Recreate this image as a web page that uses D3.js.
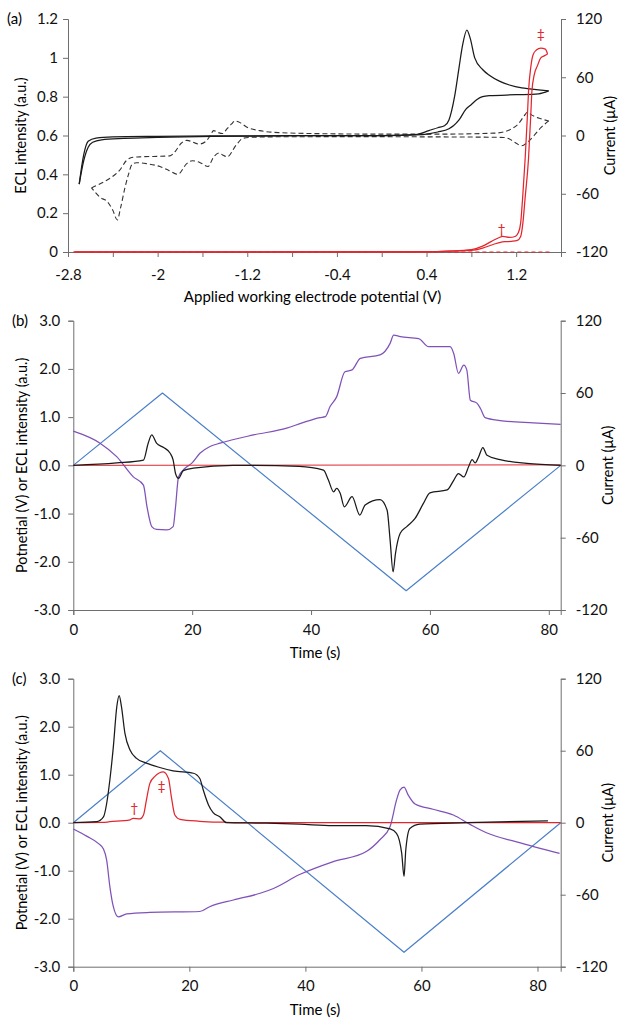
<!DOCTYPE html>
<html>
<head>
<meta charset="utf-8">
<script src="https://cdn.jsdelivr.net/npm/d3@7"></script>
<style>
  body { margin: 0; background: #fff; }
  svg { display: block; font-family: Lato, "Liberation Sans", sans-serif; }
  .axis path, .axis line { stroke: #6e6e6e; }
  .axis text { fill: #111; font-size: 15px; font-family: Lato, "Liberation Sans", sans-serif; }
</style>
</head>
<body>
<svg id="chart" width="618" height="1018"></svg>
<script>
// ---- panel (a): CV (current, µA) vs potential (V); ECL (a.u.)
const cvSolidFwd = [[-2.70,-50],[-2.66,-26],[-2.62,-12],[-2.58,-7],[-2.50,-4.4],[-2.3,-3],[-2.0,-2],[-1.5,-1],[-1.0,-0.4],[-0.5,0],[0.0,0],[0.3,1],[0.42,5],[0.5,8],[0.56,10],[0.6,16],[0.65,40],[0.69,70],[0.72,92],[0.76,108.6],[0.79,100],[0.83,80],[0.9,68],[0.96,62],[1.05,56],[1.14,52],[1.25,49],[1.32,48],[1.4,47],[1.49,46]];
const cvSolidRev = [[1.49,46],[1.4,43],[1.2,42],[0.96,41],[0.9,40],[0.85,37],[0.8,32],[0.75,27],[0.69,16],[0.64,10],[0.6,7],[0.5,3.6],[0.43,2],[0.3,0.6],[0.0,0],[-0.5,0],[-1.0,-0.4],[-1.5,-0.4],[-2.0,-0.8],[-2.4,-1.4],[-2.55,-2.6],[-2.62,-6],[-2.66,-20],[-2.70,-50]];
const cvDashFwd = [[-2.59,-54],[-2.50,-49],[-2.40,-42],[-2.34,-36],[-2.28,-26],[-2.22,-22.4],[-2.16,-22],[-1.89,-21],[-1.84,-16],[-1.79,-8],[-1.74,-5],[-1.63,-8.8],[-1.57,-6],[-1.53,0],[-1.50,5],[-1.46,3],[-1.42,2],[-1.38,7],[-1.34,12],[-1.31,15],[-1.26,13],[-1.21,9],[-1.09,5],[-0.92,3],[-0.5,1.8],[0,1.4],[0.5,1.4],[1.0,2.4],[1.10,4],[1.16,7],[1.22,12],[1.27,20],[1.30,24],[1.34,21],[1.40,18],[1.49,15]];
const cvDashRev = [[1.49,15],[1.42,8],[1.36,0],[1.30,-7],[1.25,-10.6],[1.20,-8],[1.14,-3.6],[1.09,-2],[0.8,-1.6],[0.4,-1.4],[0,-1.2],[-0.5,-1.2],[-1.0,-1.4],[-1.18,-2],[-1.24,-3],[-1.30,-10],[-1.38,-22],[-1.42,-20],[-1.45,-18],[-1.50,-22],[-1.55,-32],[-1.62,-28],[-1.69,-26],[-1.74,-29],[-1.82,-40],[-1.90,-36],[-1.98,-32],[-2.10,-29],[-2.19,-28],[-2.23,-30],[-2.26,-40],[-2.29,-53],[-2.33,-74],[-2.36,-87],[-2.40,-77],[-2.45,-68],[-2.51,-64],[-2.59,-54]];
const eclA1 = [[-2.75,0],[0.4,0.002],[0.6,0.005],[0.8,0.012],[0.9,0.03],[0.98,0.055],[1.04,0.072],[1.08,0.08],[1.14,0.075],[1.19,0.08],[1.22,0.1],[1.24,0.15],[1.26,0.3],[1.28,0.48],[1.30,0.7],[1.31,0.825],[1.33,0.95],[1.35,1.015],[1.38,1.04],[1.42,1.05],[1.46,1.045],[1.48,1.02]];
const eclA2 = [[-2.75,0],[0.4,0.001],[0.6,0.004],[0.8,0.008],[0.9,0.02],[1.0,0.04],[1.06,0.05],[1.10,0.053],[1.16,0.055],[1.21,0.06],[1.24,0.08],[1.26,0.15],[1.28,0.28],[1.31,0.48],[1.33,0.7],[1.34,0.825],[1.36,0.91],[1.39,0.96],[1.42,1.0],[1.45,1.01],[1.48,1.02]];
const eclA3 = [[-2.6,0],[1.5,0]];
const xTicksA = [-2.8,-2.4,-2,-1.6,-1.2,-0.8,-0.4,0,0.4,0.8,1.2];
const xLabelsA = [-2.8,-2,-1.2,-0.4,0.4,1.2];
const yTicksA = [0,0.2,0.4,0.6,0.8,1,1.2];

// ---- panel (b): time (s)
const potB = [[0,0],[15,1.5],[56,-2.6],[82,0]];
const curB = [[0,0],[7.3,2],[11.8,4.4],[12.6,18.4],[13.2,25.2],[14,18.4],[15.2,14.8],[16.3,10],[16.8,4.4],[17.2,-6.8],[17.7,-10.8],[18.5,-4.4],[20.2,-2.4],[26.9,0],[38,-0.8],[42.1,-4],[42.9,-12],[43.8,-22],[44.3,-19.2],[44.9,-23.2],[45.6,-34.4],[46.9,-26],[48.2,-41.2],[49.1,-32.8],[51.6,-28.4],[52.8,-37.2],[53.3,-62],[53.8,-88.4],[54.2,-73.2],[55,-56.4],[56.1,-50.8],[57.5,-44],[58.9,-31.6],[60,-22.8],[62.9,-20.4],[64,-12.4],[64.8,-6.8],[65.7,-9.6],[66.5,-1.2],[67.1,4.8],[67.6,2],[68.2,7.2],[68.9,14.8],[69.6,8.4],[71.8,4.8],[76.3,1.6],[82,0]];
const purB = [[0,0.71],[4.5,0.46],[7.3,0.18],[10.1,-0.24],[11.8,-0.41],[12.4,-0.86],[13.2,-1.27],[14,-1.33],[15.7,-1.34],[16.8,-1.27],[17.2,-0.86],[17.7,-0.24],[18.8,-0.06],[19.9,0.04],[21.3,0.25],[23,0.39],[24.7,0.46],[30.3,0.63],[35.9,0.77],[38.5,0.88],[41.5,0.99],[42.4,1.01],[43.2,1.22],[44.3,1.42],[45.7,1.94],[46.9,1.98],[48.3,2.22],[51.6,2.29],[53.3,2.53],[53.9,2.70],[55,2.67],[58.1,2.63],[59.8,2.46],[63.4,2.46],[64,2.32],[64.8,1.91],[65.7,2.08],[66.2,1.98],[66.8,1.35],[67.9,1.29],[68.5,1.18],[69.3,0.99],[71.8,0.93],[77.4,0.88],[82,0.85]];
const eclB = [[0,0],[82,0.01]];

// ---- panel (c): time (s)
const potC = [[0,0],[15,1.5],[57,-2.7],[84,0]];
const curC = [[0,0],[4.0,0.8],[5.2,4.8],[5.75,16],[6.3,35.6],[6.9,63.2],[7.5,96.8],[7.9,106],[8.3,96.8],[8.9,74.4],[9.8,60.4],[10.9,53.6],[12.6,49.6],[14.9,46],[17.2,43.2],[20.7,41.2],[21.8,36.8],[22.4,27.2],[23.3,14.8],[24.1,8.4],[25.3,4.8],[26.4,0],[33.3,-0.4],[39,-1.2],[44.8,-2.4],[50.5,-2.4],[54.6,-5.2],[55.7,-8.8],[56.6,-25.6],[57,-44.8],[57.3,-22.8],[58,-4.8],[59.7,-1.2],[67.8,0],[81.8,1.6]];
const purC = [[0,-0.13],[2.3,-0.28],[4.3,-0.43],[5.2,-0.55],[5.75,-0.78],[6.3,-1.33],[6.9,-1.75],[7.75,-1.96],[9.2,-1.90],[13.2,-1.87],[21.8,-1.85],[23.5,-1.75],[27.6,-1.61],[32.2,-1.47],[34.5,-1.37],[39,-1.08],[44.8,-0.81],[50.5,-0.60],[52.8,-0.36],[54.6,-0.08],[55.7,0.47],[56.3,0.68],[57,0.74],[57.7,0.58],[58.9,0.39],[62,0.28],[65.5,0.16],[68.3,-0.03],[71.2,-0.21],[76.4,-0.40],[83.8,-0.64]];
const eclC = [[0,0],[5,0.005],[6.3,0.02],[9.8,0.06],[10.3,0.09],[11.5,0.08],[12.1,0.16],[12.6,0.47],[13.2,0.82],[14.1,0.97],[15.5,1.06],[16.4,0.92],[16.9,0.54],[17.5,0.16],[18.4,0.07],[21.8,0.03],[26,0.01],[30,0],[84,0]];

const xTicksT = [0,20,40,60,80];
const yTicksT = [-3,-2,-1,0,1,2,3];
const yTicksR = [-120,-60,0,60,120];

const BLACK = '#1a1a1a', RED = '#e3262d', BLUE = '#4a7fc8', PURPLE = '#7f52b8';
const svg = d3.select('#chart');

function makePanel(o) {
  const g = svg.append('g');
  const x = d3.scaleLinear().domain(o.xDom).range([o.l, o.r]);
  const yL = d3.scaleLinear().domain(o.yDom).range([o.b, o.t]);
  const yR = d3.scaleLinear().domain([-120, 120]).range([o.b, o.t]);

  g.append('g').attr('class', 'axis').attr('transform', `translate(0,${o.b})`)
    .call(d3.axisBottom(x).tickValues(o.xTicks).tickSizeOuter(0).tickSize(5).tickPadding(o.xPad)
      .tickFormat(d => o.xLabels.some(v => Math.abs(v - d) < 1e-9) ? String(+d.toFixed(1)) : ''));
  g.append('g').attr('class', 'axis').attr('transform', `translate(${o.l},0)`)
    .call(d3.axisLeft(yL).tickValues(o.yTicks).tickSizeOuter(0).tickSize(5).tickPadding(o.yPad).tickFormat(o.yFmt));
  g.append('g').attr('class', 'axis').attr('transform', `translate(${o.r},0)`)
    .call(d3.axisRight(yR).tickValues(yTicksR).tickSizeOuter(0).tickSize(5).tickPadding(10).tickFormat(d => String(d)));

  // titles
  g.append('text').attr('x', o.label[0]).attr('y', o.t).attr('dy', '0.35em')
    .style('font-size', '15px').text(o.name);
  g.append('text').attr('x', (o.l + o.r) / 2 - 2).attr('y', o.b + o.xTitleOff)
    .attr('text-anchor', 'middle').style('font-size', '15px').text(o.xTitle);
  g.append('text').attr('transform', `translate(${o.yTitleX},${(o.t + o.b) / 2}) rotate(-90)`)
    .attr('text-anchor', 'middle').attr('dy', '0.35em').style('font-size', '14.5px').text(o.yTitle);
  g.append('text').attr('transform', `translate(${o.rTitleX},${(o.t + o.b) / 2}) rotate(-90)`)
    .attr('text-anchor', 'middle').attr('dy', '0.35em').style('font-size', '14.5px').text('Current (µA)');

  const lineL = d3.line().x(d => x(d[0])).y(d => yL(d[1])).curve(d3.curveMonotoneX);
  const lineR = d3.line().x(d => x(d[0])).y(d => yR(d[1])).curve(d3.curveMonotoneX);
  const lineStraight = d3.line().x(d => x(d[0])).y(d => yL(d[1]));
  o.series.forEach(s => {
    g.append('path').datum(s.data)
      .attr('d', s.straight ? lineStraight : (s.axis === 'R' ? lineR : lineL))
      .attr('fill', 'none').attr('stroke', s.color).attr('stroke-width', s.w || 1.25)
      .attr('stroke-dasharray', s.dash || null).attr('stroke-linejoin', 'round');
  });
  (o.marks || []).forEach(m => {
    g.append('text').attr('x', x(m[0])).attr('y', yL(m[1])).attr('dy', '0.35em')
      .attr('text-anchor', 'middle').attr('fill', RED).style('font-size', '14px').text(m[2]);
  });
}

makePanel({
  name: '(a)', label: [7], l: 68, r: 561, t: 19, b: 252,
  xDom: [-2.8, 1.6], yDom: [0, 1.2], xTicks: xTicksA, xLabels: xLabelsA, yTicks: yTicksA,
  yFmt: d => String(+d.toFixed(1)), xPad: 12, yPad: 5,
  xTitle: 'Applied working electrode potential (V)', xTitleOff: 50,
  yTitle: 'ECL intensity (a.u.)', yTitleX: 21, rTitleX: 610,
  series: [
    { data: eclA3, color: RED, dash: '4,3', w: 1 },
    { data: cvDashFwd, axis: 'R', color: '#333', dash: '5,3', w: 1.1 },
    { data: cvDashRev, axis: 'R', color: '#333', dash: '5,3', w: 1.1 },
    { data: cvSolidFwd, axis: 'R', color: BLACK },
    { data: cvSolidRev, axis: 'R', color: BLACK },
    { data: eclA1, color: RED },
    { data: eclA2, color: RED }
  ],
  marks: [[1.07, 0.12, '†'], [1.42, 1.12, '‡']]
});

makePanel({
  name: '(b)', label: [12], l: 73.3, r: 560.7, t: 320.7, b: 610,
  xDom: [0, 82], yDom: [-3, 3], xTicks: xTicksT, xLabels: xTicksT, yTicks: yTicksT,
  yFmt: d => d.toFixed(1), xPad: 9, yPad: 8,
  xTitle: 'Time (s)', xTitleOff: 48,
  yTitle: 'Potnetial (V) or ECL intensity (a.u.)', yTitleX: 22, rTitleX: 608,
  series: [
    { data: potB, color: BLUE, w: 1.2, straight: true },
    { data: purB, color: PURPLE },
    { data: eclB, color: RED, w: 1 },
    { data: curB, axis: 'R', color: BLACK }
  ]
});

makePanel({
  name: '(c)', label: [12], l: 73.3, r: 560.7, t: 678.7, b: 966.7,
  xDom: [0, 84], yDom: [-3, 3], xTicks: xTicksT, xLabels: xTicksT, yTicks: yTicksT,
  yFmt: d => d.toFixed(1), xPad: 9, yPad: 8,
  xTitle: 'Time (s)', xTitleOff: 48,
  yTitle: 'Potnetial (V) or ECL intensity (a.u.)', yTitleX: 22, rTitleX: 608,
  series: [
    { data: potC, color: BLUE, w: 1.2, straight: true },
    { data: purC, color: PURPLE },
    { data: eclC, color: RED },
    { data: curC, axis: 'R', color: BLACK }
  ],
  marks: [[10.5, 0.3, '†'], [15.2, 0.76, '‡']]
});
</script>
</body>
</html>
